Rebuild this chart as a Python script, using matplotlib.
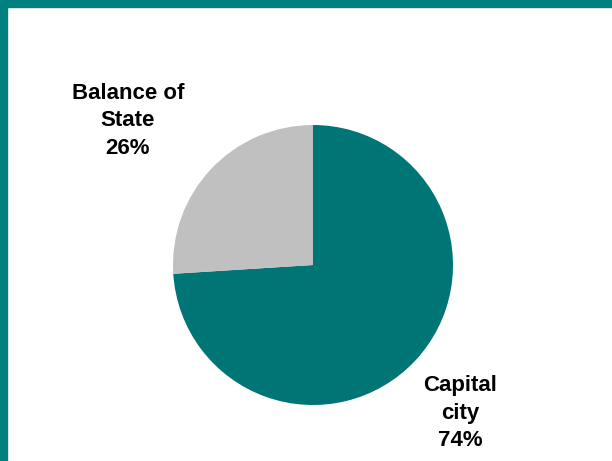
import matplotlib.pyplot as plt
from matplotlib.patches import Rectangle

# slices
labels = ['Capital\ncity', 'Balance of\nState']
shares = [74, 26]
colors = ['#007575', '#c0c0c0']

fig = plt.figure(figsize=(6.12, 4.61), dpi=100)
ax = fig.add_axes([0, 0, 1, 1])
ax.pie(shares, colors=colors, startangle=90, counterclock=False,
       center=(313, 196), radius=140, wedgeprops={'linewidth': 0})
ax.set_xlim(0, 612)
ax.set_ylim(0, 461)
ax.set_aspect('equal')
ax.axis('off')

# label positions (pixel space, y up)
label_pos = [(460, 48), (128, 340)]
for lab, val, (x, y) in zip(labels, shares, label_pos):
    ax.text(x, y, f'{lab}\n{val}%', ha='center', va='center',
            multialignment='center', fontsize=16, fontweight='bold',
            family='Liberation Sans', linespacing=1.38)

# teal frame on top and left
border = '#008080'
fig.patches.append(Rectangle((0, 1 - 7 / 461), 1, 7 / 461, transform=fig.transFigure,
                             color=border, zorder=5))
fig.patches.append(Rectangle((0, 0), 7 / 612, 1, transform=fig.transFigure,
                             color=border, zorder=5))

fig.savefig('out.png', dpi=100)
